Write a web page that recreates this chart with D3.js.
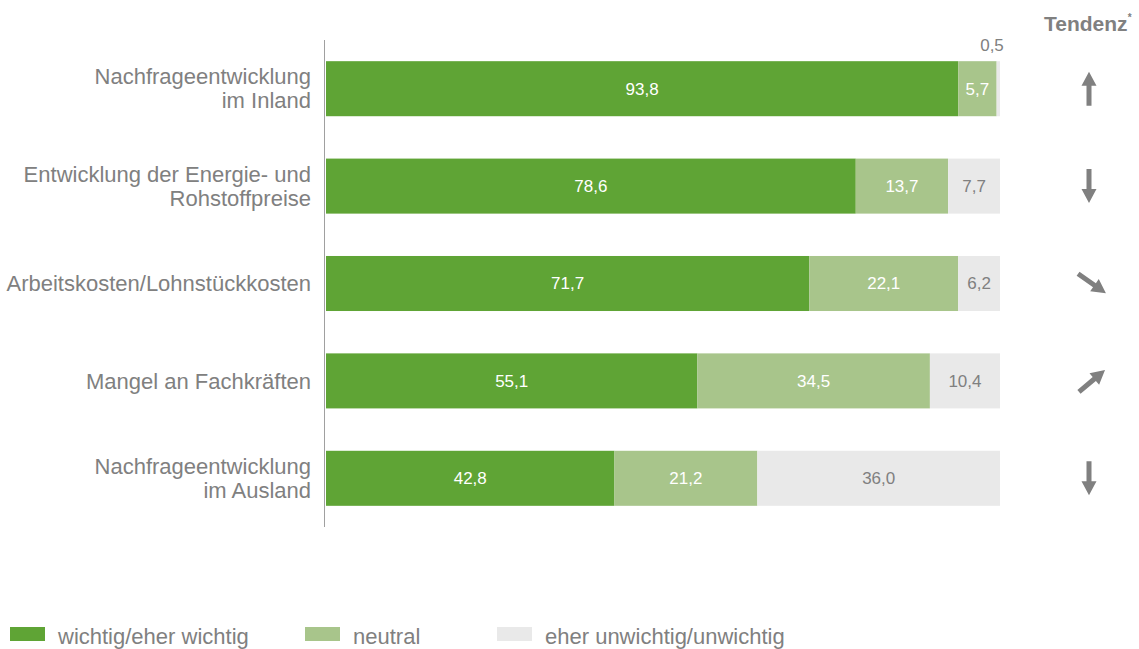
<!DOCTYPE html>
<html>
<head>
<meta charset="utf-8">
<script src="https://cdn.jsdelivr.net/npm/d3@7"></script>
<style>
  body { margin: 0; background: #fff; }
  svg { font-family: "Liberation Sans", Arial, sans-serif; }
</style>
</head>
<body>
<svg id="chart" width="1139" height="649"></svg>
<script>
// data
const categories = [
    ["Nachfrageentwicklung", "im Inland"],
    ["Entwicklung der Energie- und", "Rohstoffpreise"],
    ["Arbeitskosten/Lohnstückkosten"],
    ["Mangel an Fachkräften"],
    ["Nachfrageentwicklung", "im Ausland"]
];
const seriesNames = ["wichtig/eher wichtig", "neutral", "eher unwichtig/unwichtig"];
const wichtig = [93.8, 78.6, 71.7, 55.1, 42.8];
const neutral = [5.7, 13.7, 22.1, 34.5, 21.2];
const unwichtig = [0.5, 7.7, 6.2, 10.4, 36.0];
// arrow angle in degrees: 90 = up, -90 = down, -35 = down-right, 40 = up-right
const tendenz = [90, -90, -35, 40, -90];

const colors = ["#5fa435", "#a8c58b", "#e9e9e9"];
const grey = "#808080";

const svg = d3.select("#chart");

const x = d3.scaleLinear().domain([0, 100]).range([326, 1000]);
const y = d3.scaleBand().domain(d3.range(categories.length)).range([40, 527]).paddingInner(0.435).paddingOuter(0.2175);

const fmt = v => d3.format(".1f")(v).replace(".", ",");

// stack
const rows = categories.map((c, i) => ({ i, s0: wichtig[i], s1: neutral[i], s2: unwichtig[i] }));
const stack = d3.stack().keys(["s0", "s1", "s2"])(rows);

const g = svg.append("g");

stack.forEach((layer, k) => {
    g.selectAll(null)
        .data(layer)
        .enter()
        .append("rect")
        .attr("x", d => x(d[0]))
        .attr("y", d => y(d.data.i))
        .attr("width", d => x(d[1]) - x(d[0]))
        .attr("height", y.bandwidth())
        .attr("fill", colors[k]);

    g.selectAll(null)
        .data(layer)
        .enter()
        .append("text")
        .attr("x", d => (d[1] - d[0]) < 2 ? x(d[1]) - 8 : (x(d[0]) + x(d[1])) / 2)
        .attr("y", d => (d[1] - d[0]) < 2 ? y(d.data.i) - 16 : y(d.data.i) + y.bandwidth() / 2)
        .attr("dy", "0.35em")
        .attr("text-anchor", "middle")
        .attr("font-size", 17)
        .attr("fill", d => (k === 2 || (d[1] - d[0]) < 2) ? grey : "#fff")
        .text(d => fmt(d[1] - d[0]));
});

// axis line
svg.append("line")
    .attr("x1", 324.5).attr("x2", 324.5)
    .attr("y1", 40).attr("y2", 527)
    .attr("stroke", "#a0a0a0")
    .attr("stroke-width", 1);

// category labels
categories.forEach((lines, i) => {
    const cy = y(i) + y.bandwidth() / 2;
    const t = svg.append("text")
        .attr("text-anchor", "end")
        .attr("font-size", 22)
        .attr("fill", grey);
    lines.forEach((l, j) => {
        t.append("tspan")
            .attr("x", 311)
            .attr("y", cy + (j - (lines.length - 1) / 2) * 24)
            .attr("dy", "0.35em")
            .text(l);
    });
});

// Tendenz header
const th = svg.append("text")
    .attr("x", 1044)
    .attr("y", 31)
    .attr("font-size", 21)
    .attr("font-weight", "bold")
    .attr("fill", grey)
    .text("Tendenz");
th.append("tspan")
    .attr("font-size", 10)
    .attr("dy", -10)
    .text("*");

// arrows
const arrowPath = "M-17,-2.5 L3,-2.5 L3,-7.5 L17,0 L3,7.5 L3,2.5 L-17,2.5 Z";
tendenz.forEach((a, i) => {
    const cy = y(i) + y.bandwidth() / 2;
    const cx = Math.abs(a) === 90 ? 1089 : 1092;
    svg.append("path")
        .attr("d", arrowPath)
        .attr("transform", `translate(${cx},${cy}) rotate(${-a})`)
        .attr("fill", grey);
});

// legend
const legX = [10, 305, 497];
seriesNames.forEach((name, k) => {
    svg.append("rect")
        .attr("x", legX[k])
        .attr("y", 627)
        .attr("width", 35)
        .attr("height", 14)
        .attr("fill", colors[k]);
    svg.append("text")
        .attr("x", legX[k] + 48)
        .attr("y", 636)
        .attr("dy", "0.35em")
        .attr("font-size", 22)
        .attr("fill", grey)
        .text(name);
});
</script>
</body>
</html>
